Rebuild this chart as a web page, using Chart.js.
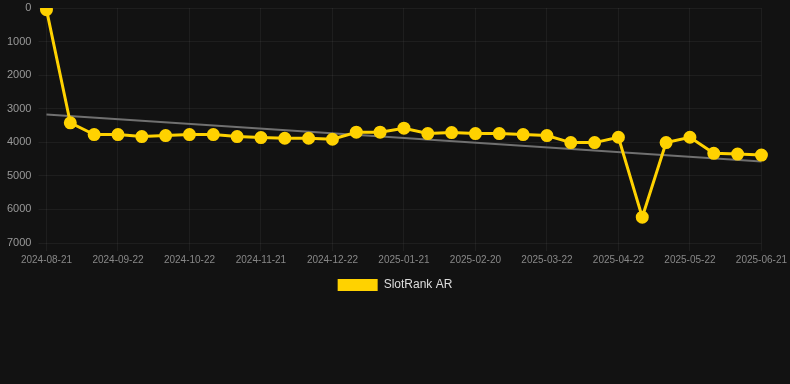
<!DOCTYPE html>
<html>
<head>
<meta charset="utf-8">
<script src="https://cdn.jsdelivr.net/npm/chart.js@4.4.1/dist/chart.umd.min.js"></script>
<style>
html,body{margin:0;padding:0;background:#121212;}
#wrap{width:790px;height:384px;position:relative;}
</style>
</head>
<body>
<div id="wrap"><canvas id="c"></canvas></div>
<script>
const labels = ["2024-08-21","2024-08-31","2024-09-11","2024-09-22","2024-10-02","2024-10-12","2024-10-22","2024-11-01","2024-11-11","2024-11-21","2024-12-01","2024-12-11","2024-12-22","2025-01-01","2025-01-11","2025-01-21","2025-01-31","2025-02-10","2025-02-20","2025-03-02","2025-03-12","2025-03-22","2025-04-01","2025-04-11","2025-04-22","2025-05-02","2025-05-12","2025-05-22","2025-06-01","2025-06-11","2025-06-21"];
const rankValues = [50,3420,3770,3770,3830,3800,3770,3770,3830,3860,3880,3880,3910,3700,3700,3580,3740,3710,3740,3740,3770,3800,4010,4010,3850,6230,4010,3850,4330,4350,4380];
const trendStart = 3175;
const trendEnd = 4570;
const yTicks = [0,1000,2000,3000,4000,5000,6000,7000];

new Chart(document.getElementById('c'), {
  type: 'line',
  data: {
    labels: labels,
    datasets: [
      {
        label: 'SlotRank AR',
        data: rankValues,
        borderColor: '#FFD200',
        backgroundColor: '#FFD200',
        borderWidth: 3,
        pointRadius: 5,
        pointBackgroundColor: '#FFD200',
        pointBorderColor: '#FFD200',
        tension: 0
      },
      {
        label: 'trend',
        data: [{x: labels[0], y: trendStart}, {x: labels[labels.length-1], y: trendEnd}],
        borderColor: '#707070',
        borderWidth: 2,
        pointRadius: 0,
        tension: 0
      }
    ]
  },
  options: {
    responsive: true,
    maintainAspectRatio: false,
    animation: false,
    layout: {padding: {left: 0, right: 0, top: 0, bottom: 83}},
    plugins: {
      legend: {
        position: 'bottom',
        labels: {
          color: '#dddddd',
          font: {family: 'Liberation Sans, Arial, sans-serif', size: 12},
          boxWidth: 40,
          boxHeight: 12,
          generateLabels: (chart) => Chart.defaults.plugins.legend.labels.generateLabels(chart)
            .filter(l => l.text !== 'trend')
            .map(l => Object.assign(l, {lineWidth: 0}))
        }
      },
      tooltip: {enabled: false}
    },
    scales: {
      x: {
        grid: {color: 'rgba(255,255,255,0.05)'},
        border: {display: false},
        ticks: {color: '#888888', font: {family: 'Liberation Sans, Arial, sans-serif', size: 10}, maxRotation: 0, autoSkip: true, maxTicksLimit: 11}
      },
      y: {
        reverse: true,
        min: 0,
        max: 7000,
        grid: {color: 'rgba(255,255,255,0.05)'},
        border: {display: false},
        afterBuildTicks: (axis) => { axis.ticks = yTicks.map(v => ({value: v})); },
        afterFit: (axis) => { axis.paddingTop = 6; },
        ticks: {color: '#999999', padding: 7, font: {family: 'Liberation Sans, Arial, sans-serif', size: 11}, callback: (v) => String(v)}
      }
    }
  }
});
</script>
</body>
</html>
